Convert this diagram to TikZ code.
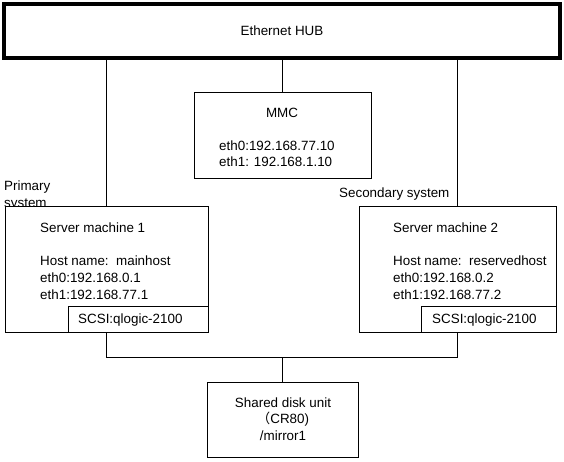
\documentclass[tikz,border=0pt]{standalone}
\usepackage{fontspec}
\setmainfont{Liberation Sans}
\newfontfamily\cjk{Noto Sans CJK SC}
\begin{document}
\begin{tikzpicture}[x=1pt,y=-1pt,
  box/.style={draw, line width=1pt, fill=white, inner sep=0pt, outer sep=0pt, anchor=north west},
  lbl/.style={anchor=base west, inner sep=0pt, font=\fontsize{13.4}{16}\selectfont},
  ctr/.style={anchor=base, inner sep=0pt, font=\fontsize{13.4}{16}\selectfont},
  wire/.style={line width=1pt}]
\useasboundingbox (0,0) rectangle (564,461);
% hub
\node[box, line width=4pt, minimum width=556pt, minimum height=54pt] (hub) at (4,4) {};
\node[ctr] (hubt) at (282,35) {Ethernet HUB};
% MMC
\node[box, minimum width=177pt, minimum height=86pt] (mmc) at (194,92) {};
\node[ctr] (mmct) at (282,117) {MMC};
\node[lbl] (mmc0) at (219,150) {eth0:192.168.77.10};
\node[lbl] (mmc1) at (219,166) {eth1: 192.168.1.10};
% labels
\node[lbl] (prim1) at (4,190) {Primary};
\node[lbl] (prim2) at (4,207) {system};
\node[lbl] (sec) at (339,197) {Secondary system};
% server 1
\node[box, minimum width=203pt, minimum height=126pt] (s1) at (5,206) {};
\node[box, minimum width=140pt, minimum height=26pt] (scsi1) at (68,306) {};
\node[lbl] (s1a) at (40,232) {Server machine 1};
\node[lbl] (s1b) at (40,265) {Host name:~~mainhost};
\node[lbl] (s1c) at (40,282) {eth0:192.168.0.1};
\node[lbl] (s1d) at (40,299) {eth1:192.168.77.1};
\node[lbl] (scsi1t) at (78,323) {SCSI:qlogic-2100};
% server 2
\node[box, minimum width=197pt, minimum height=126pt] (s2) at (359,206) {};
\node[box, minimum width=135pt, minimum height=26pt] (scsi2) at (421,306) {};
\node[lbl] (s2a) at (393,232) {Server machine 2};
\node[lbl] (s2b) at (393,265) {Host name:~~reservedhost};
\node[lbl] (s2c) at (393,282) {eth0:192.168.0.2};
\node[lbl] (s2d) at (393,299) {eth1:192.168.77.2};
\node[lbl] (scsi2t) at (432,323) {SCSI:qlogic-2100};
% disk
\node[box, minimum width=151pt, minimum height=75pt] (disk) at (207,382) {};
\node[ctr] (d1) at (283,407) {Shared disk unit};
\node[ctr] (d2) at (283,423) {{\cjk （}CR80)};
\node[ctr] (d3) at (283,440) {/mirror1};
% connectors
\coordinate (busy) at (0,357);
\draw[wire] (hub.south -| s1.north) -- (s1.north);
\draw[wire] (hub.south -| mmc.north) -- (mmc.north);
\draw[wire] (hub.south -| s2.north) -- (s2.north);
\draw[wire] (s1.south) -- (s1.south |- busy) -- (s2.south |- busy) -- (s2.south);
\draw[wire] (disk.north) -- (disk.north |- busy);
\end{tikzpicture}
\end{document}
